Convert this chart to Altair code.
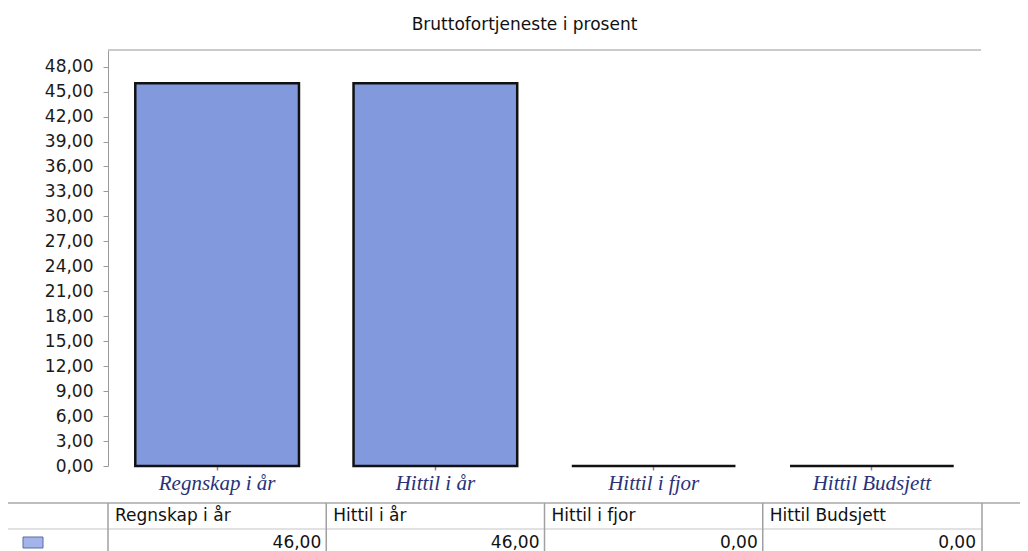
import altair as alt
import pandas as pd

# ---- data -------------------------------------------------------------
categories = ["Regnskap i år", "Hittil i år", "Hittil i fjor", "Hittil Budsjett"]
values = [46.0, 46.0, 0.0, 0.0]
y_ticks = [0, 3, 6, 9, 12, 15, 18, 21, 24, 27, 30, 33, 36, 39, 42, 45, 48]
chart_title = "Bruttofortjeneste i prosent"

df = pd.DataFrame({"kategori": categories, "verdi": values})
one = pd.DataFrame({"k": [0]})

W, H = 873, 416
SANS = "DejaVu Sans"

xscale = alt.Scale(domain=categories, paddingInner=0, paddingOuter=0)
comma_fmt = "replace(format(datum.value, '.2f'), '.', ',')"

x_axis = alt.Axis(domain=False, ticks=True, tickSize=4, tickColor="#8a8a8a", tickWidth=1.5,
                  labelFont="Liberation Serif", labelFontStyle="italic",
                  labelFontSize=21, labelColor="#28327a", labelPadding=2,
                  labelAngle=0, grid=False, title=None)

bars = alt.Chart(df).mark_bar(
    width=alt.RelativeBandSize(band=0.75),
    fill="#8399de", stroke="#111111", strokeWidth=2.5,
).encode(
    x=alt.X("kategori:N", scale=xscale, title=None, axis=x_axis),
    y=alt.Y("verdi:Q", scale=alt.Scale(domain=[0, 50], nice=False, zero=True), title=None,
            axis=alt.Axis(values=y_ticks, labelExpr=comma_fmt, domain=True,
                          domainColor="#9a9a9a", tickColor="#9a9a9a", tickSize=5,
                          labelFont=SANS, labelFontSize=17, labelColor="#1a1a1a",
                          labelPadding=10, labelOverlap=False, grid=False)),
)

top_frame = alt.Chart(one).mark_rule(color="#b8b8b8", strokeWidth=1.5).encode(
    x=alt.value(0), x2=alt.value(W), y=alt.value(0)
)

# ---- table below the chart -------------------------------------------
hline1 = alt.Chart(one).mark_rule(color="#a8a8a8", strokeWidth=1.5).encode(
    x=alt.value(-108), x2=alt.value(W + 60), y=alt.value(453)
)
hline2 = alt.Chart(one).mark_rule(color="#d9d9d9", strokeWidth=1.5).encode(
    x=alt.value(-100), x2=alt.value(W + 1), y=alt.value(479)
)
vlines = alt.Chart(df).mark_rule(color="#a0a0a0", strokeWidth=1.5).encode(
    x=alt.X("kategori:N", scale=xscale, bandPosition=0, title=None, axis=x_axis),
    y=alt.value(453), y2=alt.value(505),
)
vline_end = alt.Chart(one).mark_rule(color="#a0a0a0", strokeWidth=1.5).encode(
    x=alt.value(W + 1), y=alt.value(453), y2=alt.value(505)
)
headers = alt.Chart(df).mark_text(
    align="left", baseline="middle", dx=7, font=SANS, fontSize=17, color="#111111"
).encode(
    x=alt.X("kategori:N", scale=xscale, bandPosition=0, title=None, axis=x_axis),
    y=alt.value(466),
    text="kategori:N",
)
cells = alt.Chart(df).transform_calculate(
    lbl="replace(format(datum.verdi, '.2f'), '.', ',')"
).mark_text(
    align="right", baseline="middle", dx=-5, font=SANS, fontSize=17, color="#111111"
).encode(
    x=alt.X("kategori:N", scale=xscale, bandPosition=1, title=None, axis=x_axis),
    y=alt.value(493),
    text="lbl:N",
)
swatch = alt.Chart(one).mark_rect(fill="#a4b4e8", stroke="#5a6aaa", strokeWidth=1).encode(
    x=alt.value(-85), x2=alt.value(-65), y=alt.value(487), y2=alt.value(498)
)

chart = alt.layer(
    top_frame, bars, hline1, hline2, vlines, vline_end, headers, cells, swatch
).properties(
    width=W, height=H,
    autosize=alt.AutoSizeParams(type="none"),
    padding={"left": 100, "top": 42, "right": 39, "bottom": 94},
    title=alt.TitleParams(chart_title, font=SANS, fontSize=17, fontWeight="normal",
                          color="#111111", anchor="middle", dx=-20, offset=15),
).configure(background="white").configure_view(stroke=None)

chart.save("out.html", embed_options={"renderer": "svg", "actions": False})
